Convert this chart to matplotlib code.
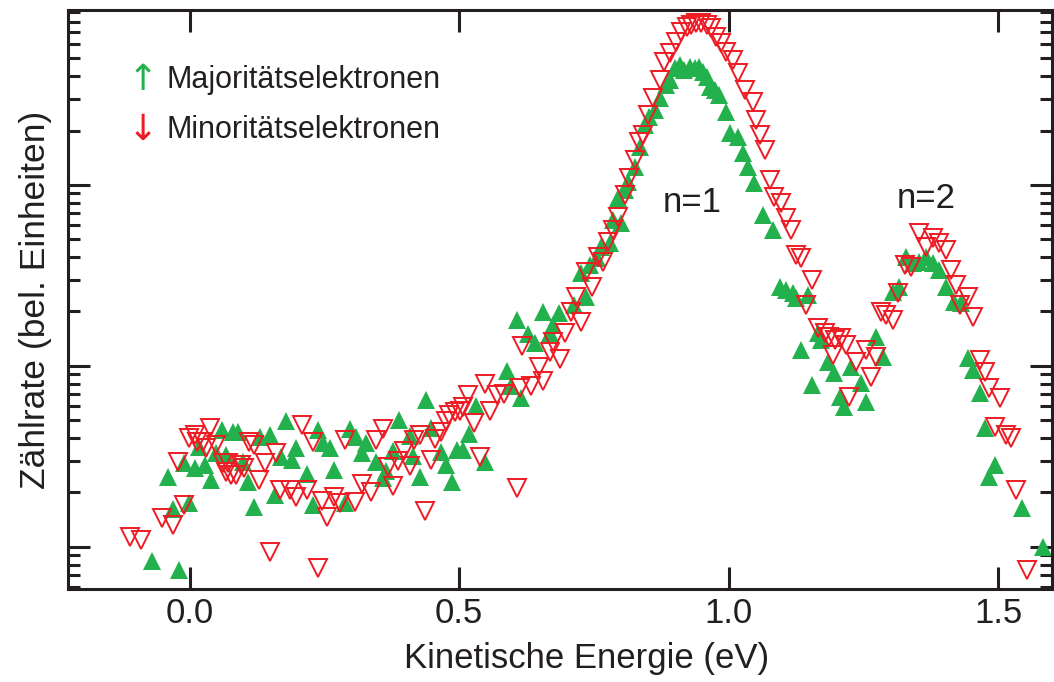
import numpy as np
import matplotlib
matplotlib.use("Agg")
import matplotlib.pyplot as plt
from matplotlib.ticker import LogLocator, NullFormatter, MultipleLocator

plt.rcParams['font.family'] = ['Liberation Sans', 'DejaVu Sans']

# Majoritätselektronen (spin up): energy in eV, count rate in arb. units
e_up = [-0.071, -0.020, -0.041, -0.031, -0.001, 0.009, -0.011, 0.017, 0.028, 0.039,
        0.048, 0.059, 0.068, 0.080, 0.090, 0.099, 0.108, 0.119, 0.130, 0.148,
        0.159, 0.170, 0.178, 0.189, 0.198, 0.218, 0.229, 0.238, 0.247, 0.260,
        0.268, 0.289, 0.298, 0.309, 0.319, 0.328, 0.345, 0.358, 0.365, 0.378,
        0.388, 0.408, 0.414, 0.428, 0.438, 0.447, 0.467, 0.476, 0.487, 0.496,
        0.508, 0.518, 0.532, 0.547, 0.588, 0.597, 0.614, 0.607, 0.627, 0.640,
        0.655, 0.668, 0.674, 0.686, 0.714, 0.727, 0.736, 0.742, 0.755, 0.764,
        0.779, 0.785, 0.795, 0.801, 0.807, 0.813, 0.826, 0.835, 0.844, 0.853,
        0.863, 0.872, 0.884, 0.891, 0.900, 0.909, 0.918, 0.928, 0.937, 0.946,
        0.952, 0.960, 0.965, 0.974, 0.983, 0.996, 1.002, 1.017, 1.027, 1.036,
        1.048, 1.064, 1.082, 1.095, 1.107, 1.119, 1.126, 1.147, 1.135, 1.166,
        1.172, 1.155, 1.184, 1.195, 1.206, 1.215, 1.228, 1.246, 1.255, 1.274,
        1.286, 1.305, 1.317, 1.330, 1.342, 1.354, 1.367, 1.379, 1.391, 1.404,
        1.419, 1.432, 1.444, 1.453, 1.466, 1.475, 1.484, 1.494, 1.544, 1.583]
c_up = [8.37, 7.46, 24.4, 16.2, 17.5, 27.3, 29.1, 35.7, 28.4, 23.4,
        33.1, 44.3, 32.2, 43.2, 43.2, 29.5, 22.9, 16.6, 40.5, 41.6,
        19.4, 31.4, 49.7, 30.3, 35.2, 25.3, 17.1, 44.3, 37.6, 35.2,
        26.6, 17.5, 44.9, 40.5, 33.1, 37.6, 29.5, 24.0, 26.3, 33.9,
        50.3, 41.0, 31.8, 24.4, 64.9, 45.4, 33.5, 28.4, 22.9, 34.3,
        34.3, 42.1, 60.1, 29.5, 93.8, 77.5, 66.6, 179, 150, 134,
        199, 152, 169, 196, 217, 326, 240, 361, 395, 454,
        478, 641, 847, 617, 938, 1040, 1257, 1622, 2144, 2376,
        2595, 3026, 3569, 3802, 4428, 4603, 4317, 4487, 4428, 4487,
        4207, 3952, 3477, 3349, 3141, 2530, 1937, 1841, 1503, 1257,
        1026, 683, 564, 273, 263, 253, 238, 247, 122, 152,
        139, 78.5, 105, 91.5, 67.4, 59.4, 98.7, 80.5, 63.2, 145,
        112, 256, 273, 400, 371, 376, 400, 371, 339, 273,
        226, 223, 111, 95.0, 71.0, 45.4, 24.4, 28.4, 16.4, 10.0]

# Minoritätselektronen (spin down)
e_dn = [-0.111, -0.091, -0.051, -0.031, -0.011, -0.022, -0.001, 0.009, 0.014, 0.024,
        0.037, 0.031, 0.048, 0.061, 0.071, 0.068, 0.077, 0.085, 0.096, 0.101,
        0.110, 0.119, 0.128, 0.139, 0.148, 0.160, 0.168, 0.186, 0.198, 0.208,
        0.218, 0.229, 0.238, 0.246, 0.254, 0.267, 0.278, 0.288, 0.306, 0.319,
        0.337, 0.346, 0.358, 0.368, 0.377, 0.386, 0.397, 0.409, 0.416, 0.428,
        0.437, 0.447, 0.456, 0.467, 0.475, 0.482, 0.492, 0.501, 0.507, 0.516,
        0.527, 0.538, 0.547, 0.557, 0.571, 0.584, 0.607, 0.612, 0.634, 0.655,
        0.617, 0.649, 0.668, 0.674, 0.688, 0.696, 0.708, 0.716, 0.727, 0.736,
        0.747, 0.758, 0.767, 0.776, 0.785, 0.795, 0.807, 0.816, 0.826, 0.833,
        0.841, 0.850, 0.860, 0.872, 0.881, 0.891, 0.903, 0.912, 0.922, 0.931,
        0.940, 0.949, 0.959, 0.968, 0.977, 0.986, 0.996, 1.008, 1.017, 1.030,
        1.045, 1.051, 1.058, 1.067, 1.076, 1.085, 1.098, 1.107, 1.116, 1.126,
        1.135, 1.155, 1.144, 1.166, 1.178, 1.187, 1.197, 1.209, 1.218, 1.193,
        1.237, 1.255, 1.274, 1.265, 1.224, 1.283, 1.293, 1.305, 1.314, 1.327,
        1.339, 1.354, 1.367, 1.379, 1.391, 1.404, 1.413, 1.422, 1.429, 1.444,
        1.453, 1.466, 1.475, 1.484, 1.503, 1.494, 1.515, 1.524, 1.534, 1.553]
c_dn = [11.4, 10.9, 14.5, 13.2, 17.1, 29.5, 40.0, 41.6, 38.0, 38.0,
        45.4, 35.2, 36.6, 29.1, 29.1, 26.0, 25.0, 25.0, 28.4, 27.3,
        38.0, 36.6, 23.4, 29.1, 9.38, 33.1, 20.6, 20.6, 18.9, 47.2,
        20.6, 38.0, 7.66, 17.9, 14.6, 18.9, 17.5, 39.0, 17.7, 22.3,
        20.1, 39.0, 44.9, 27.7, 21.7, 29.9, 33.9, 28.0, 39.0, 41.6,
        15.8, 30.3, 39.5, 43.2, 49.7, 53.6, 55.7, 56.4, 59.4, 69.2,
        48.4, 31.4, 79.6, 56.4, 69.2, 70.0, 21.2, 75.6, 77.5, 82.6,
        129, 98.7, 119, 136, 109, 152, 199, 240, 175, 330,
        273, 400, 376, 484, 564, 666, 881, 1093, 1374, 1729,
        1889, 2437, 3026, 3802, 4783, 5360, 6166, 7000, 7460, 7656,
        7852, 7852, 7656, 7367, 6570, 6090, 5430, 4906, 4156, 3349,
        2876, 2286, 1889, 1560, 1066, 858, 796, 657, 564, 410,
        395, 299, 217, 162, 152, 145, 139, 143, 131, 115,
        105, 122, 112, 86.9, 67.4, 199, 191, 179, 253, 361,
        352, 543, 454, 510, 478, 437, 339, 280, 217, 240,
        187, 108, 92.7, 75.6, 66.6, 46.0, 41.6, 40.0, 20.6, 7.46]

green = '#22b14c'
red = '#ed1c24'
ink = '#231f20'

fig = plt.figure(figsize=(10.54, 6.82), dpi=100)
ax = fig.add_axes([0.0645, 0.1364, 0.9335, 0.849])

ax.plot(e_up, c_up, linestyle='none', marker='^', markersize=13.5,
        color=green, markeredgewidth=0, zorder=2)
ax.plot(e_dn, c_dn, linestyle='none', marker='v', markersize=13.5,
        markerfacecolor='none', markeredgecolor=red, markeredgewidth=1.4, zorder=3)

ax.set_yscale('log')
ax.set_xlim(-0.226, 1.6)
ax.set_ylim(5.86, 9270)

ax.xaxis.set_major_locator(MultipleLocator(0.5))
ax.xaxis.set_major_formatter(plt.FuncFormatter(lambda v, p: f'{v:.1f}'))
ax.yaxis.set_major_locator(LogLocator(base=10))
ax.yaxis.set_minor_locator(LogLocator(base=10, subs=np.arange(2, 10)))
ax.yaxis.set_major_formatter(NullFormatter())
ax.yaxis.set_minor_formatter(NullFormatter())

for side in ax.spines.values():
    side.set_linewidth(2.2)
    side.set_color(ink)

ax.tick_params(axis='x', which='major', direction='in', length=16, width=2.2,
               top=True, bottom=True, labelsize=25, pad=6, colors=ink)
ax.tick_params(axis='x', which='minor', bottom=False, top=False)
ax.tick_params(axis='y', which='major', direction='in', length=16, width=2.2,
               left=True, right=True, colors=ink)
ax.tick_params(axis='y', which='minor', direction='in', length=8.5, width=2.2,
               left=True, right=True, colors=ink)

ax.set_xlabel('Kinetische Energie (eV)', fontsize=25, color=ink)
ax.xaxis.set_label_coords(0.527, -0.092, transform=ax.transAxes)
ax.xaxis.label.set_va('top')
ax.set_ylabel('Zählrate (bel. Einheiten)', fontsize=25.5, color=ink, labelpad=8)

# legend built from arrow glyphs
ax.text(-0.087, 3802, '↑', color=green, fontsize=26, ha='center', va='center',
        family=['DejaVu Sans'])
ax.text(-0.043, 3802, 'Majoritätselektronen', color=ink, fontsize=22, va='center')
ax.text(-0.087, 2014, '↓', color=red, fontsize=26, ha='center', va='center',
        family=['DejaVu Sans'])
ax.text(-0.043, 2014, 'Minoritätselektronen', color=ink, fontsize=22, va='center')

ax.text(0.933, 805, 'n=1', fontsize=25, color=ink, ha='center', va='center')
ax.text(1.366, 847, 'n=2', fontsize=25, color=ink, ha='center', va='center')

fig.savefig('out.png', dpi=100)
